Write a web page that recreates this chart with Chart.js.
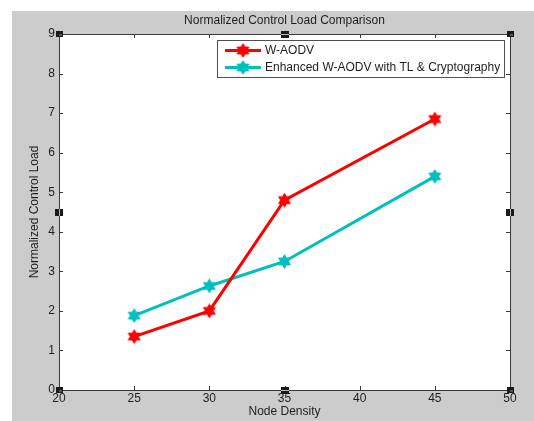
<!DOCTYPE html>
<html>
<head>
<meta charset="utf-8">
<script src="https://cdn.jsdelivr.net/npm/chart.js@4.4.1/dist/chart.umd.min.js"></script>
<style>
html,body{margin:0;padding:0;background:#fff;}
#wrap{position:relative;width:534px;height:421px;}
</style>
</head>
<body>
<div id="wrap"><canvas id="c" width="534" height="421"></canvas></div>
<script>
const nodeDensity = [25, 30, 35, 45];
const wAodv = [1.35, 2.0, 4.8, 6.85];
const enhanced = [1.88, 2.63, 3.25, 5.4];
const xTicks = [20, 25, 30, 35, 40, 45, 50];
const yTicks = [0, 1, 2, 3, 4, 5, 6, 7, 8, 9];
const seriesNames = ['W-AODV', 'Enhanced W-AODV with TL & Cryptography'];
const seriesColors = ['#ff0000', 'rgb(0,191,191)'];
const titleText = 'Normalized Control Load Comparison';
const xTitle = 'Node Density';
const yTitle = 'Normalized Control Load';

const FONT = '"Liberation Sans", Arial, sans-serif';

function hexagram(color) {
  const c = document.createElement('canvas');
  c.width = 15; c.height = 15;
  const g = c.getContext('2d');
  const cx = 7.5, cy = 7.5, R = 6.8, r = 3.9;
  g.beginPath();
  for (let k = 0; k < 12; k++) {
    const a = -Math.PI / 2 + k * Math.PI / 6;
    const rad = k % 2 === 0 ? R : r;
    const px = cx + rad * Math.cos(a), py = cy + rad * Math.sin(a);
    if (k === 0) g.moveTo(px, py); else g.lineTo(px, py);
  }
  g.closePath();
  g.fillStyle = color;
  g.fill();
  g.strokeStyle = color;
  g.lineWidth = 1;
  g.stroke();
  return c;
}
const markers = seriesColors.map(hexagram);

const decor = {
  id: 'decor',
  beforeDraw(chart) {
    const ctx = chart.ctx, a = chart.chartArea;
    ctx.save();
    ctx.fillStyle = '#ffffff';
    ctx.fillRect(0, 0, chart.width, chart.height);
    ctx.fillStyle = '#cccccc';
    ctx.fillRect(12, 11, chart.width - 12, chart.height - 11);
    ctx.fillStyle = '#ffffff';
    ctx.fillRect(a.left, a.top, a.right - a.left, a.bottom - a.top);
    ctx.restore();
  },
  afterDraw(chart) {
    const ctx = chart.ctx, a = chart.chartArea;
    const xs = chart.scales.x, ys = chart.scales.y;
    ctx.save();
    // box
    ctx.strokeStyle = '#3a3a3a';
    ctx.lineWidth = 1;
    ctx.strokeRect(Math.round(a.left) + 0.5, Math.round(a.top) + 0.5,
      Math.round(a.right - a.left), Math.round(a.bottom - a.top));
    // inward ticks
    ctx.beginPath();
    xTicks.forEach(v => {
      const px = Math.round(xs.getPixelForValue(v)) + 0.5;
      ctx.moveTo(px, a.bottom); ctx.lineTo(px, a.bottom - 4);
      ctx.moveTo(px, a.top); ctx.lineTo(px, a.top + 4);
    });
    yTicks.forEach(v => {
      const py = Math.round(ys.getPixelForValue(v)) + 0.5;
      ctx.moveTo(a.left, py); ctx.lineTo(a.left + 4, py);
      ctx.moveTo(a.right, py); ctx.lineTo(a.right - 4, py);
    });
    ctx.stroke();
    // selection handles
    const mx = (a.left + a.right) / 2, my = (a.top + a.bottom) / 2;
    const corners = [[a.left, a.top], [a.right, a.top], [a.left, a.bottom], [a.right, a.bottom]];
    corners.forEach(([hx, hy]) => {
      ctx.fillStyle = '#1a1a1a';
      ctx.fillRect(Math.round(hx) - 3, Math.round(hy) - 3, 7, 6);
      ctx.fillStyle = '#555';
      ctx.fillRect(Math.round(hx), Math.round(hy), 3, 2);
    });
    const mids = [[mx, a.top, 'h'], [mx, a.bottom, 'h'], [a.left, my, 'v'], [a.right, my, 'v']];
    mids.forEach(([hx, hy, o]) => {
      ctx.fillStyle = '#1a1a1a';
      ctx.fillRect(Math.round(hx) - 4, Math.round(hy) - 3, 8, 7);
      ctx.fillStyle = '#bbbbbb';
      if (o === 'v') ctx.fillRect(Math.round(hx), Math.round(hy) - 3, 1, 7);
      else ctx.fillRect(Math.round(hx) - 4, Math.round(hy), 8, 1);
    });
    // title
    ctx.fillStyle = '#1e1e1e';
    ctx.font = '12px ' + FONT;
    ctx.textAlign = 'center';
    ctx.textBaseline = 'middle';
    ctx.fillText(titleText, (a.left + a.right) / 2, 21);
    // legend
    const lx = 217, ly = 40, lw = 287, lh = 37;
    ctx.fillStyle = '#ffffff';
    ctx.fillRect(lx, ly, lw, lh);
    ctx.strokeStyle = '#505050';
    ctx.lineWidth = 1;
    ctx.strokeRect(lx + 0.5, ly + 0.5, lw, lh);
    const rows = [50.5, 67.5];
    seriesNames.forEach((name, i) => {
      const y = rows[i];
      ctx.strokeStyle = seriesColors[i];
      ctx.lineWidth = 3;
      ctx.beginPath();
      ctx.moveTo(225, y); ctx.lineTo(261, y);
      ctx.stroke();
      ctx.drawImage(markers[i], 243 - 7.5, y - 7.5);
      ctx.fillStyle = '#1e1e1e';
      ctx.textAlign = 'left';
      ctx.textBaseline = 'middle';
      ctx.font = '12px ' + FONT;
      ctx.fillText(name, 265, y);
    });
    ctx.restore();
  }
};

const toPts = ys => nodeDensity.map((x, i) => ({ x, y: ys[i] }));

new Chart(document.getElementById('c'), {
  type: 'line',
  data: {
    datasets: [
      { label: seriesNames[0], data: toPts(wAodv), borderColor: seriesColors[0], backgroundColor: seriesColors[0],
        borderWidth: 3, pointStyle: markers[0], pointRadius: 6, fill: false, tension: 0 },
      { label: seriesNames[1], data: toPts(enhanced), borderColor: seriesColors[1], backgroundColor: seriesColors[1],
        borderWidth: 3, pointStyle: markers[1], pointRadius: 6, fill: false, tension: 0 }
    ]
  },
  options: {
    responsive: false,
    animation: false,
    layout: { padding: { left: 0, top: 34, right: 24, bottom: 0 } },
    plugins: { legend: { display: false }, title: { display: false }, tooltip: { enabled: false } },
    scales: {
      x: {
        type: 'linear', min: 20, max: 50,
        afterBuildTicks: s => { s.ticks = xTicks.map(v => ({ value: v })); },
        afterFit: s => { s.height = 31; },
        grid: { display: false, drawTicks: false },
        border: { display: false },
        ticks: { padding: 1, color: '#1e1e1e', font: { family: FONT, size: 12 }, maxRotation: 0, autoSkip: false },
        title: { display: true, text: xTitle, color: '#1e1e1e', font: { family: FONT, size: 12 }, padding: { top: 0, bottom: 2 } }
      },
      y: {
        type: 'linear', min: 0, max: 9,
        afterBuildTicks: s => { s.ticks = yTicks.map(v => ({ value: v })); },
        afterFit: s => { s.width = 59; },
        grid: { display: false, drawTicks: false },
        border: { display: false },
        ticks: { padding: 4, color: '#1e1e1e', font: { family: FONT, size: 12 }, autoSkip: false },
        title: { display: true, text: yTitle, color: '#1e1e1e', font: { family: FONT, size: 12 }, padding: { top: 27, bottom: 0 } }
      }
    }
  },
  plugins: [decor]
});
</script>
</body>
</html>
